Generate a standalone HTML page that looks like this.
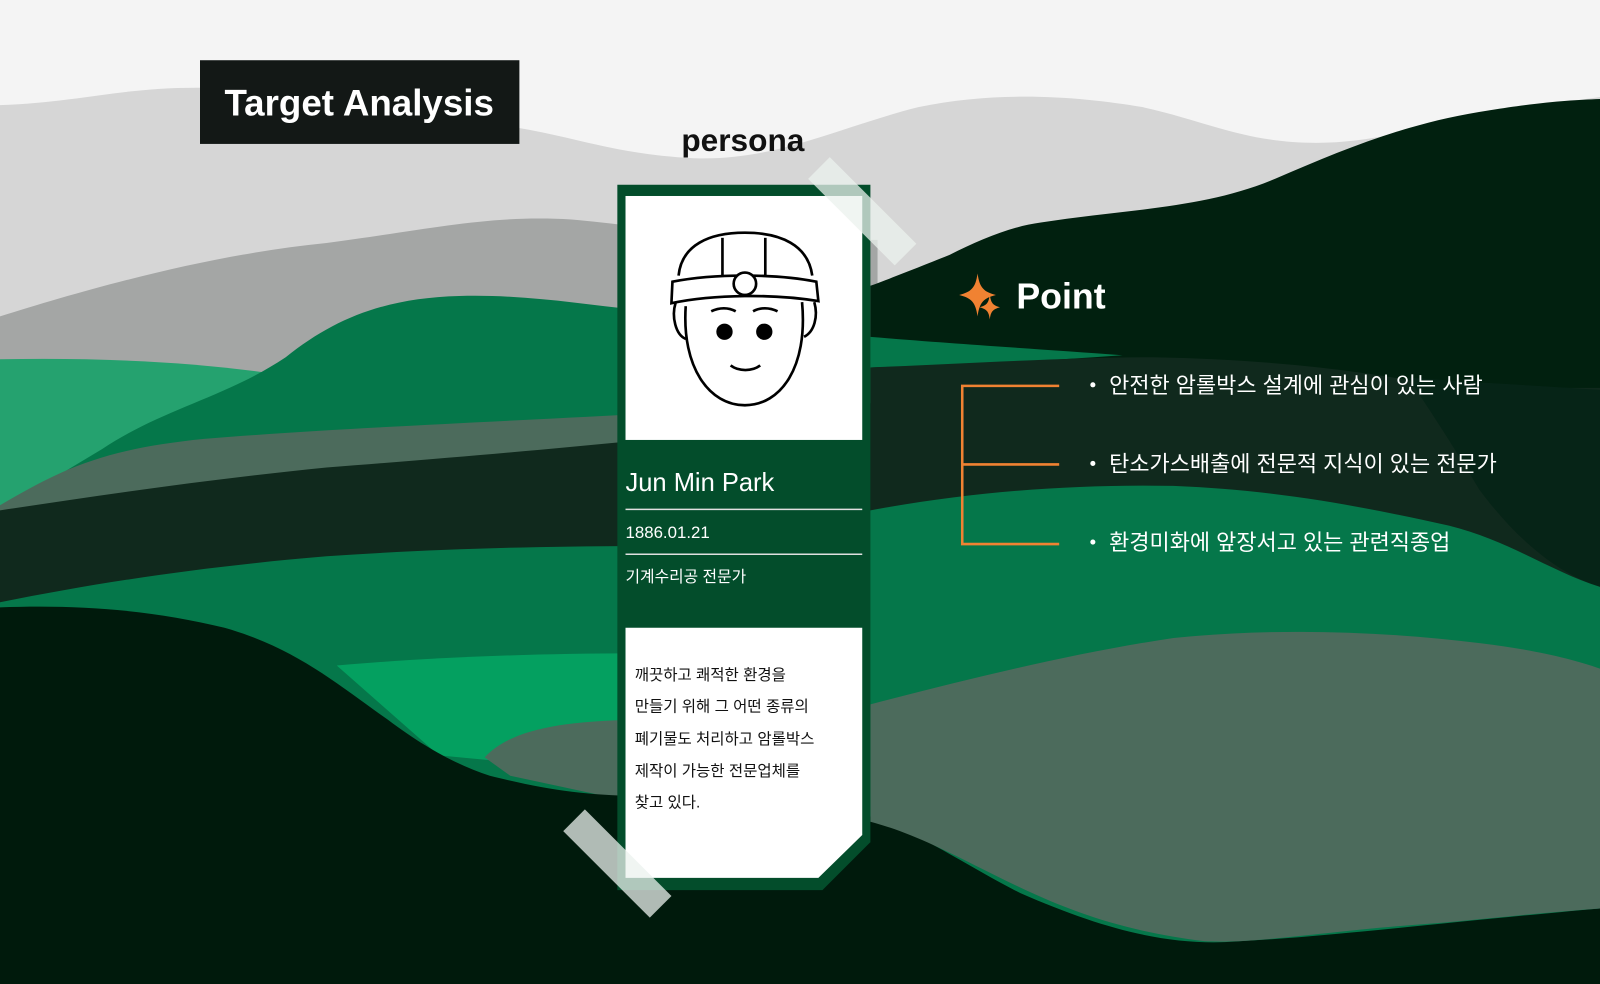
<!DOCTYPE html>
<html><head><meta charset="utf-8"><style>
html,body{margin:0;padding:0;width:1600px;height:984px;overflow:hidden;background:#f4f4f4}
svg{display:block}
text{font-family:"Liberation Sans","Noto Sans CJK KR",sans-serif}
</style></head><body>
<svg width="1600" height="984" viewBox="0 0 1568 964" preserveAspectRatio="none" xmlns="http://www.w3.org/2000/svg">
<rect width="1568" height="964" fill="#f4f4f4"/>
<path d="M0,103 C80,100 120,85 200,86 C300,90 350,118 450,120 C540,122 580,150 680,155 C760,158 820,125 900,105 C980,88 1060,95 1120,105 C1180,118 1220,140 1290,140 C1360,140 1420,115 1568,95 L1568,964 L0,964Z" fill="#d6d6d6"/>
<path d="M0,310 C80,285 200,250 320,238 C420,225 480,210 560,215 C620,220 700,235 860,235 L860,964 L0,964Z" fill="#a4a6a5"/>
<path d="M853,280 C880,270 900,262 930,250 C960,235 990,222 1020,218 C1100,205 1180,205 1250,175 C1320,145 1380,120 1460,108 C1510,100 1540,98 1568,97 L1568,964 L853,964Z" fill="#01200f"/>
<path d="M0,352 C100,350 200,355 280,368 L300,520 L0,520Z" fill="#25a26f"/>
<path d="M100,440 C160,400 220,390 280,350 C330,310 380,292 450,290 C520,288 580,300 640,305 L853,330 C950,338 1020,342 1100,348 C1000,355 930,358 853,360 L853,600 L0,600 L0,500Z" fill="#05774a"/>
<path d="M0,495 C60,460 100,440 200,430 C320,420 450,415 640,405 L640,560 L0,560Z" fill="#4c6b5c"/>
<path d="M0,500 C100,485 200,470 320,458 C450,448 540,440 640,430 L853,395 L853,360 C950,356 1050,350 1130,350 C1250,352 1350,365 1420,380 L1568,380 L1568,575 L0,600Z" fill="#10291d"/>
<path d="M1380,370 C1450,375 1510,378 1568,382 L1568,575 C1520,560 1480,520 1450,480 C1420,430 1400,400 1380,370Z" fill="#062417"/>
<path d="M0,590 C100,570 200,555 320,545 C420,538 520,535 640,535 L853,500 C950,482 1050,474 1150,476 C1250,480 1330,495 1420,515 C1480,530 1520,560 1568,575 L1568,964 L0,964Z" fill="#05774a"/>
<path d="M330,652 C420,644 520,640 640,640 L640,760 L430,740Z" fill="#04a060"/>
<path d="M475,742 C500,715 550,705 640,705 L640,790 L500,760Z" fill="#4c6b5c"/>
<path d="M0,595 C80,592 150,598 220,615 C290,635 330,670 380,705 C420,735 450,750 480,760 C540,775 580,780 640,780 L853,800 C900,815 950,850 1000,875 C1080,910 1140,925 1200,923 C1300,918 1400,905 1568,890 L1568,964 L0,964Z" fill="#001a0c"/>
<path d="M853,690 C950,665 1050,640 1150,625 C1250,615 1350,618 1450,630 C1500,636 1540,645 1568,655 L1568,890 C1500,895 1440,902 1400,905 C1300,912 1230,925 1180,922 C1080,910 1020,880 960,850 C920,830 890,815 853,805Z" fill="#4c6b5c"/>

<rect x="196" y="59" width="313" height="82" fill="#131816"/>
<text x="352" y="113" text-anchor="middle" fill="#fff" font-size="36" font-weight="bold">Target Analysis</text>
<text x="728" y="148" text-anchor="middle" fill="#111" font-size="31" font-weight="bold">persona</text>

<polygon points="605,181 853,181 853,825 806,872 605,872" fill="#034d2b"/>
<rect x="613" y="192" width="232" height="239" fill="#fff"/>
<g fill="none" stroke="#000" stroke-width="2.6">
<path d="M665,270 C668,240 695,228 730,228 C765,228 792,240 796,270"/>
<line x1="708" y1="233" x2="708" y2="272"/><line x1="750" y1="233" x2="750" y2="272"/>
<path d="M659,276 C700,268 760,268 800,276 L802,295 C760,288 700,288 658,297 Z" fill="#fff"/>
<circle cx="730" cy="278" r="11" fill="#fff"/>
<path d="M662,297 C658,310 662,328 672,332"/><path d="M798,296 C802,310 798,325 788,330"/>
<path d="M672,300 C668,360 695,397 730,397 C765,397 792,360 786,296"/>
<path d="M697,305 C705,301 714,301 721,305"/><path d="M738,305 C745,301 754,301 762,305"/>
<path d="M716,358 C724,364 737,364 745,358"/>
</g>
<circle cx="710" cy="325" r="8" fill="#000"/><circle cx="749" cy="325" r="8" fill="#000"/>
<text x="613" y="481" fill="#fff" font-size="25">Jun Min Park</text>
<line x1="613" y1="499" x2="845" y2="499" stroke="#e0e0e0" stroke-width="1.5"/>
<text x="613" y="527" fill="#fff" font-size="16.5">1886.01.21</text>
<line x1="613" y1="543" x2="845" y2="543" stroke="#e0e0e0" stroke-width="1.5"/>
<text x="613" y="570" fill="#fff" font-size="15.5">기계수리공 전문가</text>
<polygon points="613,615 845,615 845,818 802,860 613,860" fill="#fff"/>
<g fill="#111" font-size="15.2">
<text x="622" y="666">깨끗하고 쾌적한 환경을</text>
<text x="622" y="697">만들기 위해 그 어떤 종류의</text>
<text x="622" y="729">폐기물도 처리하고 암롤박스</text>
<text x="622" y="760">제작이 가능한 전문업체를</text>
<text x="622" y="791">찾고 있다.</text>
</g>
<rect x="785" y="192" width="120" height="30" fill="rgba(235,242,238,0.75)" transform="rotate(45 845 207)"/>
<rect x="545" y="831" width="120" height="30" fill="rgba(235,242,238,0.75)" transform="rotate(45 605 846)"/>

<path d="M958,268 C960,282 964,286 976,289 C964,292 960,296 958,310 C956,296 952,292 940,289 C952,286 956,282 958,268Z" fill="#f08232"/>
<path d="M970,288 C971,297 973,299 980,301 C973,303 971,305 970,313 C969,305 967,303 960,301 C967,299 969,297 970,288Z" fill="#f08232"/>
<text x="996" y="302" fill="#fff" font-size="35" font-weight="bold">Point</text>
<g fill="none" stroke="#f08232" stroke-width="2.5">
<polyline points="1038,378 943,378 943,533 1038,533"/><line x1="943" y1="455" x2="1038" y2="455"/>
</g>
<g fill="#fff" font-size="21.5">
<circle cx="1071" cy="377" r="2.5"/><circle cx="1071" cy="454" r="2.5"/><circle cx="1071" cy="531" r="2.5"/>
<text x="1087" y="385">안전한 암롤박스 설계에 관심이 있는 사람</text>
<text x="1087" y="462">탄소가스배출에 전문적 지식이 있는 전문가</text>
<text x="1087" y="539">환경미화에 앞장서고 있는 관련직종업</text>
</g>
</svg>
</body></html>
